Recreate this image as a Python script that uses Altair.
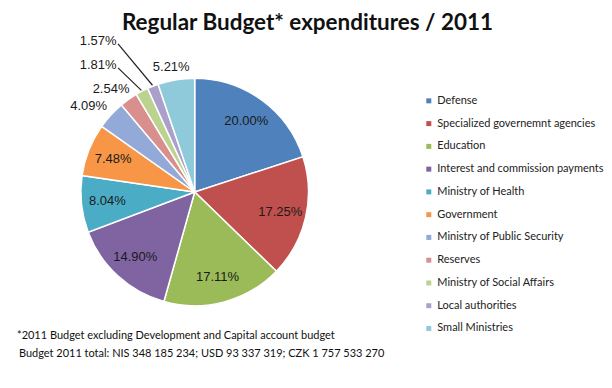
import math
import altair as alt
import pandas as pd

# ---------------- data ----------------
categories = [
    "Defense",
    "Specialized governemnt agencies",
    "Education",
    "Interest and commission payments",
    "Ministry of Health",
    "Government",
    "Ministry of Public Security",
    "Reserves",
    "Ministry of Social Affairs",
    "Local authorities",
    "Small Ministries",
]
shares = [20.00, 17.25, 17.11, 14.90, 8.04, 7.48, 4.09, 2.54, 1.81, 1.57, 5.21]
colors = ["#4F81BD", "#C0504D", "#9BBB59", "#8064A2", "#4BACC6", "#F79646",
          "#93A9D8", "#D98F8D", "#BBD38F", "#ABA0CB", "#8FCADB"]
title_text = "Regular Budget* expenditures / 2011"
footnote_lines = [
    "*2011 Budget excluding Development and Capital account budget",
    "Budget 2011 total: NIS 348 185 234; USD 93 337 319; CZK 1 757 533 270",
]

# ---------------- layout (style) ----------------
W, H = 596, 372
PLOT_TOP = 8           # page y of plot origin
CX, CY = 195 - 8, 192 - PLOT_TOP
R = 114
INNER_R = 88
OUT_GAP = 6
CHAR_W = 7.2
LBL_H = 14

df = pd.DataFrame({"category": categories, "share": shares,
                   "order": list(range(len(categories)))})
df["label"] = [f"{s:.2f}%" for s in shares]

# label placement derived from slice angles
total = sum(shares)
cum = 0.0
mids = []
for s in shares:
    mids.append(2 * math.pi * (cum + s / 2) / total)
    cum += s

lx = [0.0] * len(shares)
ly = [0.0] * len(shares)
placed = []
displaced = []
outer_idx = sorted([i for i, s in enumerate(shares) if s < 7], key=lambda i: -shares[i])
for i, s in enumerate(shares):
    if s >= 7:
        lx[i] = CX + INNER_R * math.sin(mids[i])
        ly[i] = CY - INNER_R * math.cos(mids[i])
for i in outer_idx:
    a = mids[i]
    w = len(df.label[i]) * CHAR_W
    px = CX + (R + OUT_GAP) * math.sin(a)
    py = CY - (R + OUT_GAP) * math.cos(a)
    x = px + w / 2 * math.sin(a) * 1.35
    y = py - LBL_H / 2 * math.cos(a)
    clash = any(abs(x - bx) < (w + bw) / 2 and abs(y - by) < LBL_H for bx, by, bw in placed)
    if clash:
        displaced.append(i)
    else:
        lx[i], ly[i] = x, y
        placed.append((x, y, w))

lines = []
if displaced:
    left = [i for i in outer_idx if i not in displaced and math.sin(mids[i]) < 0 and i != outer_idx[0]]
    base = min(left, key=lambda i: ly[i])
    for k, i in enumerate(sorted(displaced, key=lambda i: mids[i])):
        lx[i] = lx[base] - 13
        ly[i] = ly[base] - 24 * (k + 1)
        w = len(df.label[i]) * CHAR_W
        lines.append({
            "x1": lx[i] + w / 2 + 2, "y1": ly[i] + 3,
            "x2": CX + (R + 1) * math.sin(mids[i]),
            "y2": CY - (R + 1) * math.cos(mids[i]),
        })

df["lx"] = lx
df["ly"] = ly
lines_df = pd.DataFrame(lines)
foot_df = pd.DataFrame({"text": footnote_lines, "fx": [9, 11],
                        "fy": [336.5 - PLOT_TOP, 354 - PLOT_TOP]})
title_df = pd.DataFrame({"text": [title_text]})

color_scale = alt.Scale(domain=categories, range=colors)

pie = alt.Chart(df).mark_arc(outerRadius=R, stroke="white", strokeWidth=1.5).encode(
    theta=alt.Theta("share:Q", stack=True),
    order=alt.Order("order:Q"),
    color=alt.Color(
        "category:N", scale=color_scale, sort=categories,
        legend=alt.Legend(
            title=None, orient="none", legendX=416, legendY=100.7 - PLOT_TOP - 5.5,
            symbolType="square", symbolSize=25, symbolStrokeWidth=0,
            labelFont="Lato", labelFontSize=11, labelColor="#222",
            rowPadding=10.8, padding=0, labelOffset=3, labelLimit=300,
        ),
    ),
    x=alt.value(CX), y=alt.value(CY),
)

labels = alt.Chart(df).mark_text(
    font="Liberation Sans", fontSize=13, color="#1a1a1a", align="center", baseline="middle"
).encode(
    x=alt.X("lx:Q", scale=None, axis=None),
    y=alt.Y("ly:Q", scale=None, axis=None),
    text="label:N",
)

leaders = alt.Chart(lines_df).mark_rule(color="#222", strokeWidth=1.2).encode(
    x=alt.X("x1:Q", scale=None, axis=None),
    y=alt.Y("y1:Q", scale=None, axis=None),
    x2="x2:Q", y2="y2:Q",
)

foot = alt.Chart(foot_df).mark_text(
    font="Lato", fontSize=11, color="#111", align="left", baseline="middle"
).encode(
    x=alt.X("fx:Q", scale=None, axis=None),
    y=alt.Y("fy:Q", scale=None, axis=None),
    text="text:N",
)

title = alt.Chart(title_df).mark_text(
    font="Lato", fontSize=22.5, fontWeight="bold", color="#111",
    align="center", baseline="alphabetic",
).encode(
    x=alt.value(308 - 8), y=alt.value(30 - PLOT_TOP), text="text:N",
)

chart = alt.layer(pie, leaders, labels, foot, title).properties(
    width=W, height=H, padding=0,
).configure_view(stroke=None)

chart.save("out.html", embed_options={"renderer": "svg", "actions": False})
